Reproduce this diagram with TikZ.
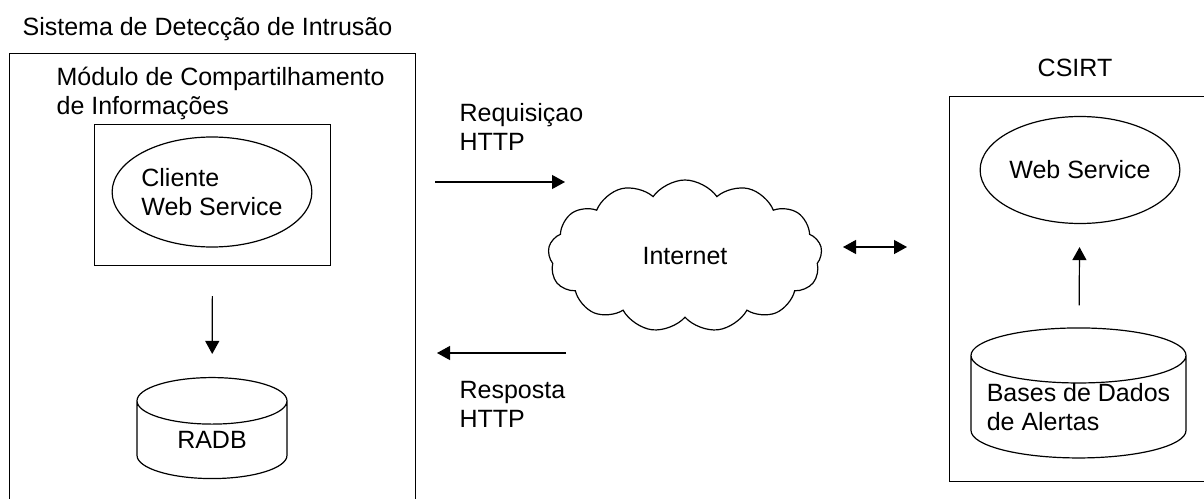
\documentclass[tikz,border=0pt]{standalone}
\usepackage{fontspec}
\setmainfont{Liberation Sans}
\usetikzlibrary{arrows.meta,positioning,shapes.geometric,shapes.symbols}

\begin{document}
\begin{tikzpicture}[x=1pt,y=-1pt,line width=1.2pt,>={Triangle[length=13pt,width=14pt]},
  font=\fontsize{25}{28.5}\selectfont,
  box/.style={draw,inner sep=0pt,anchor=north west},
  ell/.style={draw,ellipse,inner sep=0pt,align=left},
  db/.style={draw,cylinder,shape border rotate=90,inner sep=0pt,align=left},
  lbl/.style={anchor=base west,inner sep=0pt,align=left}]
\useasboundingbox (0,0) rectangle (1204,498);
% lado do IDS
\node[lbl] (ids) at (22,35) {Sistema de Detecção de Intrusão};
\node[box,minimum width=406pt,minimum height=460pt] (sys) at (9,53) {};
\node[lbl] (modt) at (56,114) {Módulo de Compartilhamento\\de Informações};
\node[box,minimum width=236pt,minimum height=141pt] (mod) at (94,124) {};
\node[ell,minimum width=195pt,minimum height=110pt] (cli) at (212,192) {Cliente\\Web Service};
\node[db,minimum width=150pt,minimum height=101pt,aspect=0.67] (radb) at (212,440) {RADB};
\draw[->,shorten <=30pt,shorten >=23pt] (mod) -- (radb);
% internet
\node[draw,cloud,cloud puffs=13,cloud puff arc=110,aspect=1.8,inner sep=0pt,minimum width=274pt,minimum height=152pt] (net) at (685,256) {Internet};
\node[lbl] (req) at (459,150) {Requisiçao\\HTTP};
\node[lbl] (resp) at (459,427) {Resposta\\HTTP};
\coordinate (r1) at (435,182); \coordinate (r2) at (565,182);
\coordinate (s1) at (566,353); \coordinate (s2) at (437,353);
\coordinate (d1) at (843,247); \coordinate (d2) at (907,247);
\draw[->] (r1) -- (r2);
\draw[->] (s1) -- (s2);
\draw[<->] (d1) -- (d2);
% CSIRT
\node[inner sep=0pt] (csirtt) at (1075,68) {CSIRT};
\node[box,minimum width=280pt,minimum height=385pt] (csirt) at (949,96) {};
\node[ell,minimum width=194pt,minimum height=107pt] (ws) at (1080,170) {Web Service};
\node[db,minimum width=215pt,minimum height=125pt,aspect=0.3] (alr) at (1078.5,407) {Bases de Dados\\de Alertas};
\draw[->,shorten <=22pt,shorten >=23pt] (alr) -- (ws);
\end{tikzpicture}
\end{document}
